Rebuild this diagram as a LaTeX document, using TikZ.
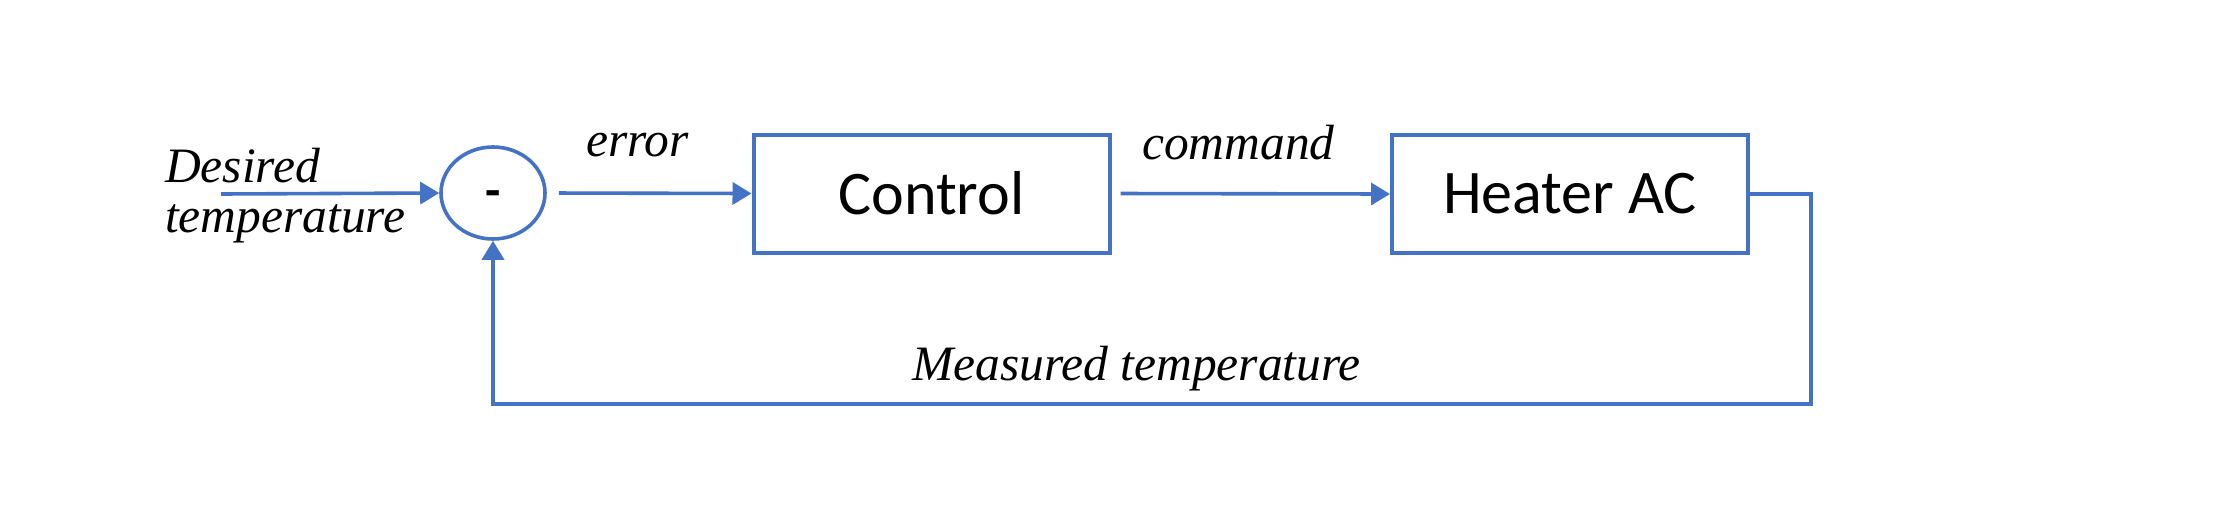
\documentclass[tikz,border=0pt]{standalone}
\usepackage{fontspec}
\usetikzlibrary{arrows.meta,shapes.geometric,calc}
\newfontfamily\lserif{Liberation Serif}
\newfontfamily\carl{Carlito}
\definecolor{offblue}{HTML}{4472C4}
\begin{document}
\begin{tikzpicture}[x=1pt,y=-1pt,
  wire/.style={draw=offblue,line width=3.6pt},
  arr/.style={wire,-{Triangle[length=19pt,width=22pt]}},
  blockbox/.style={draw=offblue,line width=4pt,rectangle,minimum width=356pt,minimum height=118pt,inner sep=0pt,font=\carl\fontsize{62}{70}\selectfont},
  lbl/.style={inner sep=0pt,anchor=base west,font=\lserif\itshape\fontsize{49.5}{50}\selectfont}]
\useasboundingbox (0,0) rectangle (2224,522);
\node[ellipse,draw=offblue,line width=3.6pt,minimum width=104pt,minimum height=92pt,inner sep=0pt] (sum) at (493,193) {};
\node[inner sep=0pt,font=\carl\bfseries\fontsize{50}{60}\selectfont] (minus) at (493,199) {-};
\node[blockbox] (ctrl) at (931.5,193.5) {Control};
\node[blockbox] (heat) at (1570,194) {Heater AC};
\coordinate (in) at (221,194);
\coordinate (rt) at (1811,404);
\node[lbl] (ldes) at (165,182) {Desired};
\node[lbl] (ltemp) at (165,232) {temperature};
\node[lbl] (lerr) at (586,156) {error};
\node[lbl] (lcmd) at (1142,159) {command};
\node[lbl] (lmeas) at (912,380) {Measured temperature};
\draw[arr] (in) -- (sum.west);
\draw[arr,shorten <=12pt] (sum.east) -- (ctrl.west);
\draw[arr,shorten <=9pt] (ctrl.east) -- (heat.west);
\draw[arr] (heat.east) -| (rt) -| (sum.south);
\end{tikzpicture}
\end{document}
